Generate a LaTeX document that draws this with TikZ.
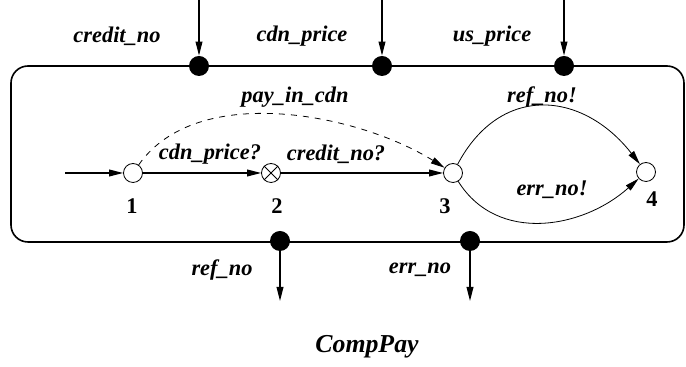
\documentclass[tikz,border=0pt]{standalone}
\usepackage{fontspec}
\setmainfont{Liberation Serif}
\usetikzlibrary{arrows.meta,calc,positioning}
\tikzset{
  lbl/.style={font=\fontsize{11.2}{13}\selectfont\bfseries\itshape, inner sep=0pt},
  num/.style={font=\fontsize{11.2}{13}\selectfont\bfseries, inner sep=0pt},
  state/.style={circle, draw, thin, fill=white, minimum size=9.5pt, inner sep=0pt},
  port/.style={circle, fill=black, minimum size=10pt, inner sep=0pt},
  arr/.style={-{Triangle[length=7pt,width=3.4pt]}, semithick}
}
\begin{document}
\begin{tikzpicture}[x=0.5pt,y=0.5pt]
  \useasboundingbox (0,0) rectangle (686,-367);
  % component frame
  \draw[line width=0.8pt, rounded corners=8.5pt] (11,-66) rectangle (684,-242);
  % ports on the frame
  \node[port] (pcredit) at (199,-66) {};
  \node[port] (pcdn) at (382,-66) {};
  \node[port] (pus) at (564,-66) {};
  \node[port] (pref) at (280,-241) {};
  \node[port] (perr) at (470,-241) {};
  \coordinate (incredit) at (199,0);
  \coordinate (incdn) at (382,0);
  \coordinate (inus) at (564,0);
  \coordinate (outref) at (280,-301);
  \coordinate (outerr) at (470,-301);
  \draw[arr] (incredit) -- (pcredit);
  \draw[arr] (incdn) -- (pcdn);
  \draw[arr] (inus) -- (pus);
  \draw[arr] (pref.center) -- (outref);
  \draw[arr] (perr.center) -- (outerr);
  \node[lbl] at (117,-36) {credit\_no};
  \node[lbl] at (302,-36) {cdn\_price};
  \node[lbl] at (492,-36) {us\_price};
  \node[lbl] at (222,-270) {ref\_no};
  \node[lbl] at (420,-270) {err\_no};
  % states
  \node[state] (s1) at (133,-173) {};
  \node[state] (s2) at (271,-173) {};
  \node[state] (s3) at (453,-173) {};
  \node[state] (s4) at (646,-172) {};
  \draw[thin] (s2.north east) -- (s2.south west) (s2.north west) -- (s2.south east);
  \node[num] at (132,-206) {1};
  \node[num] at (277,-206) {2};
  \node[num] at (445,-206) {3};
  \node[num] at (652,-199) {4};
  % transitions
  \coordinate (init) at (65,-173);
  \draw[arr] (init) -- (s1);
  \draw[arr] (s1) -- (s2);
  \node[lbl] at (210,-154) {cdn\_price?};
  \draw[arr] (s2) -- (s3);
  \node[lbl] at (336,-154) {credit\_no?};
  \draw[arr, thin, dashed] (s1) to[out=55, in=148, looseness=0.85] (s3);
  \node[lbl] at (295,-97) {pay\_in\_cdn};
  \draw[arr, thin] (s3) to[out=62, in=128, looseness=1.3] (s4);
  \node[lbl] at (542,-97) {ref\_no!};
  \draw[arr, thin] (s3) to[out=-58, in=-138, looseness=1.05] (s4);
  \node[lbl] at (552,-190) {err\_no!};
  \node[font=\fontsize{12.9}{15}\selectfont\bfseries\itshape, inner sep=0pt] (title) at (367,-347) {CompPay};
\end{tikzpicture}
\end{document}
